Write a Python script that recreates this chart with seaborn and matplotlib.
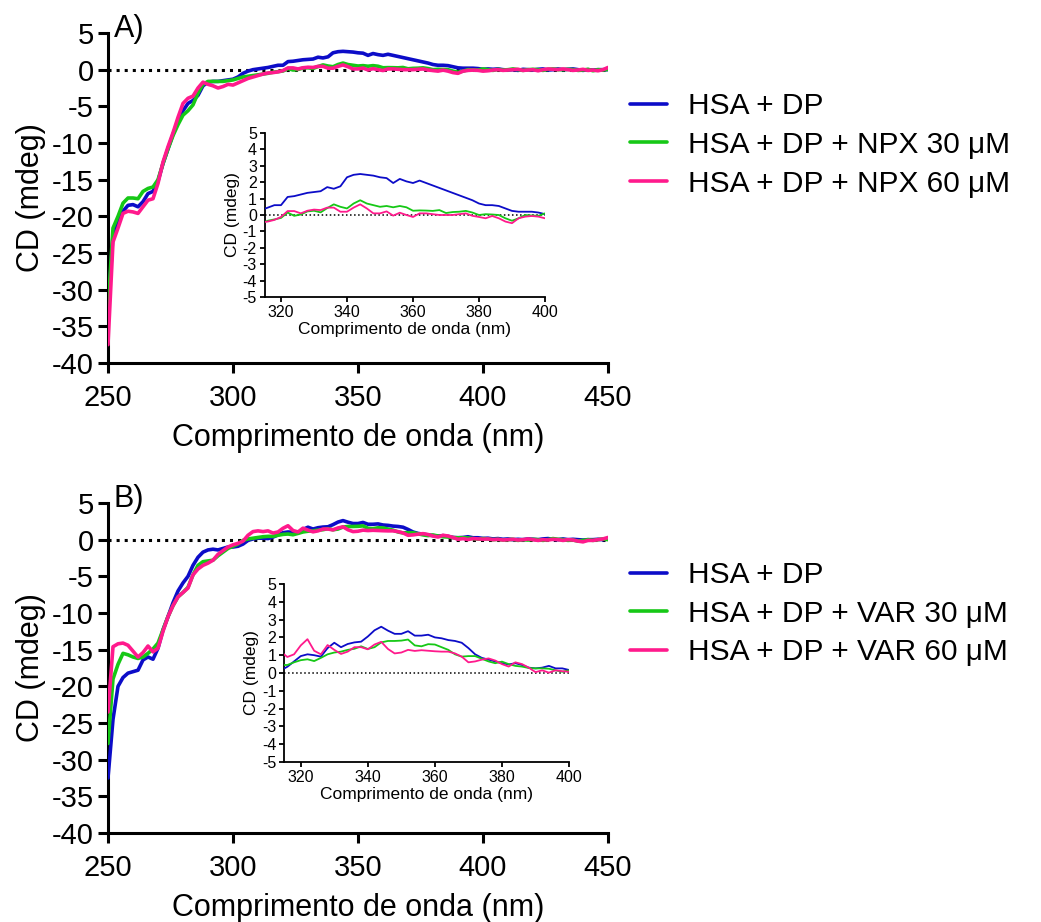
import numpy as np
import pandas as pd
import matplotlib
matplotlib.use("Agg")
import matplotlib.pyplot as plt
import seaborn as sns

# ---------------- data ----------------
wavelength = list(range(250, 451, 2))

a_hsa_dp = [
    -33.0, -22.5, -20.5, -19.3, -18.5, -18.4, -18.7, -18.0, -16.9, -16.6,   # 250-268
    -15.2, -12.8, -10.8, -8.8, -7.0, -5.6, -4.6, -4.2, -3.5, -2.2,          # 270-288
    -1.7, -1.6, -1.6, -1.5, -1.4, -1.3, -1.0, -0.5, -0.2, 0.0,              # 290-308
    0.1, 0.2, 0.3, 0.45, 0.6, 0.6, 1.1, 1.15, 1.25, 1.35,                   # 310-328
    1.4, 1.45, 1.7, 1.6, 1.75, 2.3, 2.45, 2.5, 2.45, 2.4,                   # 330-348
    2.3, 2.25, 1.95, 2.2, 2.05, 1.95, 2.1, 1.95, 1.8, 1.65,                 # 350-368
    1.5, 1.35, 1.2, 1.05, 0.9, 0.7, 0.6, 0.6, 0.55, 0.4,                    # 370-388
    0.25, 0.2, 0.2, 0.2, 0.15, 0.05, 0.1, 0.05, 0.1, 0.0,                   # 390-408
    -0.05, 0.0, -0.1, 0.05, 0.0, -0.05, 0.05, 0.1, -0.05, 0.0,              # 410-428
    0.1, 0.0, 0.05, 0.1, 0.0, -0.1, 0.0, -0.05, 0.0, 0.0,                   # 430-448
    0.0]                                                                    # 450
a_npx30 = [
    -32.5, -21.6, -20.0, -18.2, -17.5, -17.5, -17.6, -16.6, -16.2, -16.0,
    -15.0, -12.8, -10.8, -9.0, -7.5, -6.2, -5.6, -4.8, -3.2, -2.0,
    -1.6, -1.6, -1.6, -1.6, -1.5, -1.4, -1.2, -1.0, -0.9, -0.8,
    -0.7, -0.6, -0.5, -0.35, -0.27, -0.18, 0.15, -0.05, 0.03, 0.22,
    0.26, 0.16, 0.42, 0.65, 0.5, 0.4, 0.7, 0.9, 0.7, 0.6,
    0.5, 0.55, 0.47, 0.55, 0.47, 0.26, 0.28, 0.27, 0.25, 0.3,
    0.12, 0.18, 0.2, 0.25, 0.15, 0.0, 0.05, 0.03, 0.0, -0.2,
    -0.35, -0.2, 0.0, -0.03, -0.05, 0.1, 0.0, -0.1, 0.05, -0.05,
    0.0, 0.1, 0.0, -0.1, 0.0, 0.05, 0.0, -0.1, 0.05, 0.1,
    0.0, 0.0, 0.05, 0.0, -0.1, -0.05, 0.05, -0.15, 0.0, -0.05,
    0.05]
a_npx60 = [
    -37.5, -23.5, -21.6, -19.6, -19.3, -19.4, -19.6, -18.7, -17.8, -17.6,
    -15.5, -12.6, -10.5, -8.6, -6.5, -4.6, -3.9, -3.6, -2.5, -1.7,
    -2.0, -2.2, -2.5, -2.3, -2.0, -2.1, -1.8, -1.5, -1.2, -1.0,
    -0.8, -0.6, -0.45, -0.4, -0.3, -0.12, 0.24, 0.24, 0.1, 0.26,
    0.33, 0.3, 0.45, 0.45, 0.2, 0.2, 0.45, 0.65, 0.4, 0.1,
    0.1, 0.22, -0.04, 0.14, 0.0, -0.12, 0.1, 0.1, 0.05, 0.0,
    0.0, 0.0, 0.05, 0.1, -0.05, -0.12, -0.2, -0.06, -0.2, -0.4,
    -0.5, -0.2, -0.1, -0.06, -0.1, -0.2, -0.15, -0.05, 0.0, -0.1,
    -0.05, 0.0, 0.05, -0.1, -0.05, 0.0, -0.15, 0.0, 0.1, 0.05,
    0.0, 0.1, 0.0, -0.1, -0.05, 0.05, -0.1, -0.05, -0.15, 0.0,
    0.3]

b_hsa_dp = [
    -32.5, -24.5, -20.0, -18.8, -18.2, -18.0, -17.8, -16.4, -16.0, -16.3,
    -14.8, -12.3, -10.5, -8.6, -7.0, -5.9, -5.0, -3.5, -2.4, -1.7,
    -1.4, -1.3, -1.4, -1.2, -1.0, -1.0, -0.9, -0.6, -0.1, 0.1,
    0.2, 0.2, 0.15, 0.35, 0.65, 0.95, 1.05, 1.0, 0.92, 1.4,
    1.7, 1.45, 1.63, 1.72, 1.76, 2.05, 2.4, 2.6, 2.38, 2.2,
    2.2, 2.35, 2.1, 2.1, 2.15, 2.0, 1.95, 1.85, 1.8, 1.7,
    1.4, 1.05, 0.85, 0.75, 0.65, 0.55, 0.48, 0.55, 0.45, 0.3,
    0.26, 0.3, 0.4, 0.26, 0.26, 0.17, 0.2, 0.1, 0.15, 0.05,
    0.1, 0.0, 0.05, 0.0, 0.1, 0.05, 0.0, 0.1, 0.15, 0.05,
    0.0, 0.1, 0.0, 0.05, 0.0, -0.05, 0.0, 0.0, 0.05, 0.0,
    0.1]
b_var30 = [
    -27.8, -19.0, -17.0, -15.5, -15.7, -16.0, -16.2, -16.0, -15.5, -14.9,
    -14.1, -12.3, -10.5, -9.0, -7.8, -7.2, -6.5, -4.8, -3.5, -3.0,
    -2.9, -2.8, -2.2, -1.7, -1.2, -0.9, -0.6, -0.1, 0.1, 0.2,
    0.3, 0.4, 0.45, 0.45, 0.6, 0.72, 0.77, 0.67, 0.85, 1.05,
    1.15, 1.2, 1.3, 1.36, 1.5, 1.35, 1.45, 1.72, 1.8, 1.8,
    1.82, 1.88, 1.55, 1.5, 1.62, 1.6, 1.45, 1.3, 1.05, 0.92,
    0.95, 0.95, 0.8, 0.65, 0.55, 0.64, 0.5, 0.4, 0.36, 0.28,
    0.26, 0.26, 0.24, 0.15, 0.07, 0.15, 0.1, 0.0, 0.05, -0.05,
    0.0, 0.05, -0.1, 0.0, -0.05, 0.05, 0.0, -0.1, 0.0, 0.15,
    0.05, 0.0, -0.1, -0.05, -0.2, -0.1, 0.0, -0.1, 0.0, 0.1,
    0.0]
b_var60 = [
    -23.5, -14.6, -14.2, -14.1, -14.4, -15.2, -16.0, -15.4, -14.5, -15.3,
    -14.8, -12.5, -10.5, -9.0, -7.8, -7.2, -6.6, -4.8, -4.0, -3.5,
    -3.2, -2.8, -2.0, -1.5, -1.0, -0.7, -0.5, -0.2, 0.6, 1.1,
    1.2, 1.1, 1.2, 0.9, 1.05, 1.55, 1.9, 1.25, 1.05, 1.57,
    1.3, 1.07, 1.2, 1.45, 1.45, 1.33, 1.6, 1.75, 1.35, 1.1,
    1.15, 1.3, 1.24, 1.28, 1.25, 1.22, 1.2, 1.2, 1.1, 0.92,
    0.6, 0.65, 0.75, 0.82, 0.7, 0.5, 0.36, 0.6, 0.5, 0.3,
    0.05, 0.15, 0.02, 0.15, 0.1, 0.07, 0.1, 0.0, 0.05, -0.05,
    0.0, 0.05, -0.05, 0.0, 0.1, 0.0, -0.1, 0.0, -0.05, 0.05,
    0.0, -0.1, 0.0, -0.05, -0.2, -0.3, -0.1, -0.1, 0.0, 0.1,
    0.3]

labels_a = ["HSA + DP", "HSA + DP + NPX 30 \u03bcM", "HSA + DP + NPX 60 \u03bcM"]
labels_b = ["HSA + DP", "HSA + DP + VAR 30 \u03bcM", "HSA + DP + VAR 60 \u03bcM"]
colors = ["#0c0cc8", "#16c816", "#ff1a8c"]

main_xticks = [250, 300, 350, 400, 450]
main_yticks = list(range(-40, 6, 5))
inset_xticks = [320, 340, 360, 380, 400]
inset_yticks = list(range(-5, 6, 1))
xlabel = "Comprimento de onda (nm)"
ylabel = "CD (mdeg)"


def long_df(series, labels):
    frames = []
    for vals, lab in zip(series, labels):
        frames.append(pd.DataFrame({"wl": wavelength, "cd": vals, "series": lab}))
    return pd.concat(frames, ignore_index=True)


df_a = long_df([a_hsa_dp, a_npx30, a_npx60], labels_a)
df_b = long_df([b_hsa_dp, b_var30, b_var60], labels_b)

# ---------------- style ----------------
sns.set_style("ticks")
plt.rcParams["font.family"] = ["Liberation Sans", "DejaVu Sans"]
plt.rcParams["axes.unicode_minus"] = False
plt.rcParams["axes.linewidth"] = 2.2
plt.rcParams["axes.edgecolor"] = "black"
plt.rcParams["text.color"] = "black"
plt.rcParams["axes.labelcolor"] = "black"
plt.rcParams["xtick.color"] = "black"
plt.rcParams["ytick.color"] = "black"

W, H = 1041, 922
fig = plt.figure(figsize=(W / 100, H / 100), dpi=100)


def fx(px):
    return px / W


def fy(py):
    return 1 - py / H


def draw_panel(df, labels, top, inset_box, legend_top, tag):
    # main axes: x 250..450 from px 108..608; y 5..-40 from top..top+330
    ax = fig.add_axes([fx(108), fy(top + 330), 500 / W, 330 / H])
    pal = dict(zip(labels, colors))
    ax.axhline(0, color="black", ls=":", lw=2.2, zorder=1)
    sns.lineplot(data=df, x="wl", y="cd", hue="series", hue_order=labels,
                 palette=pal, estimator=None, sort=False, lw=2.6, ax=ax,
                 zorder=3)
    ax.set_xlim(250, 450)
    ax.set_ylim(-40, 5)
    ax.set_xticks(main_xticks)
    ax.set_yticks(main_yticks)
    sns.despine(ax=ax)
    ax.tick_params(axis="both", length=7, width=2.2, labelsize=21, pad=3,
                   color="black", labelcolor="black")
    ax.tick_params(axis="x", pad=8)
    ax.set_xlabel(xlabel, fontsize=22, labelpad=8)
    ax.set_ylabel(ylabel, fontsize=22, labelpad=4)
    handles, labs = ax.get_legend_handles_labels()
    ax.legend(handles, labs, loc="upper left",
              bbox_to_anchor=(fx(630), fy(legend_top)),
              bbox_transform=fig.transFigure, frameon=False, fontsize=21.5,
              handlelength=1.25, handletextpad=0.7, labelspacing=0.36,
              borderpad=0, borderaxespad=0)
    fig.text(fx(114), fy(top - 4), tag, fontsize=22, va="center", ha="left")

    # inset
    l, r, t, b = inset_box
    ins = fig.add_axes([fx(l), fy(b), (r - l) / W, (b - t) / H])
    ins.axhline(0, color="black", ls=":", lw=1.1, zorder=1)
    sns.lineplot(data=df, x="wl", y="cd", hue="series", hue_order=labels,
                 palette=pal, estimator=None, sort=False, lw=1.3, ax=ins,
                 legend=False, zorder=3)
    ins.set_xlim(315, 400)
    ins.set_ylim(-5, 5)
    ins.set_xticks(inset_xticks)
    ins.set_yticks(inset_yticks)
    for s in ["left", "bottom"]:
        ins.spines[s].set_linewidth(1.3)
    sns.despine(ax=ins)
    ins.tick_params(axis="both", length=3.5, width=1.3, labelsize=11.5, pad=2)
    ins.set_xlabel(xlabel, fontsize=12.5, labelpad=2)
    ins.set_ylabel(ylabel, fontsize=12.5, labelpad=2)
    ins.set_facecolor("none")
    return ax, ins


draw_panel(df_a, labels_a, 33, (264.5, 545, 133, 297), 92, "A)")
draw_panel(df_b, labels_b, 503, (284, 569, 584, 762), 561, "B)")

fig.savefig("out.png", dpi=100)
